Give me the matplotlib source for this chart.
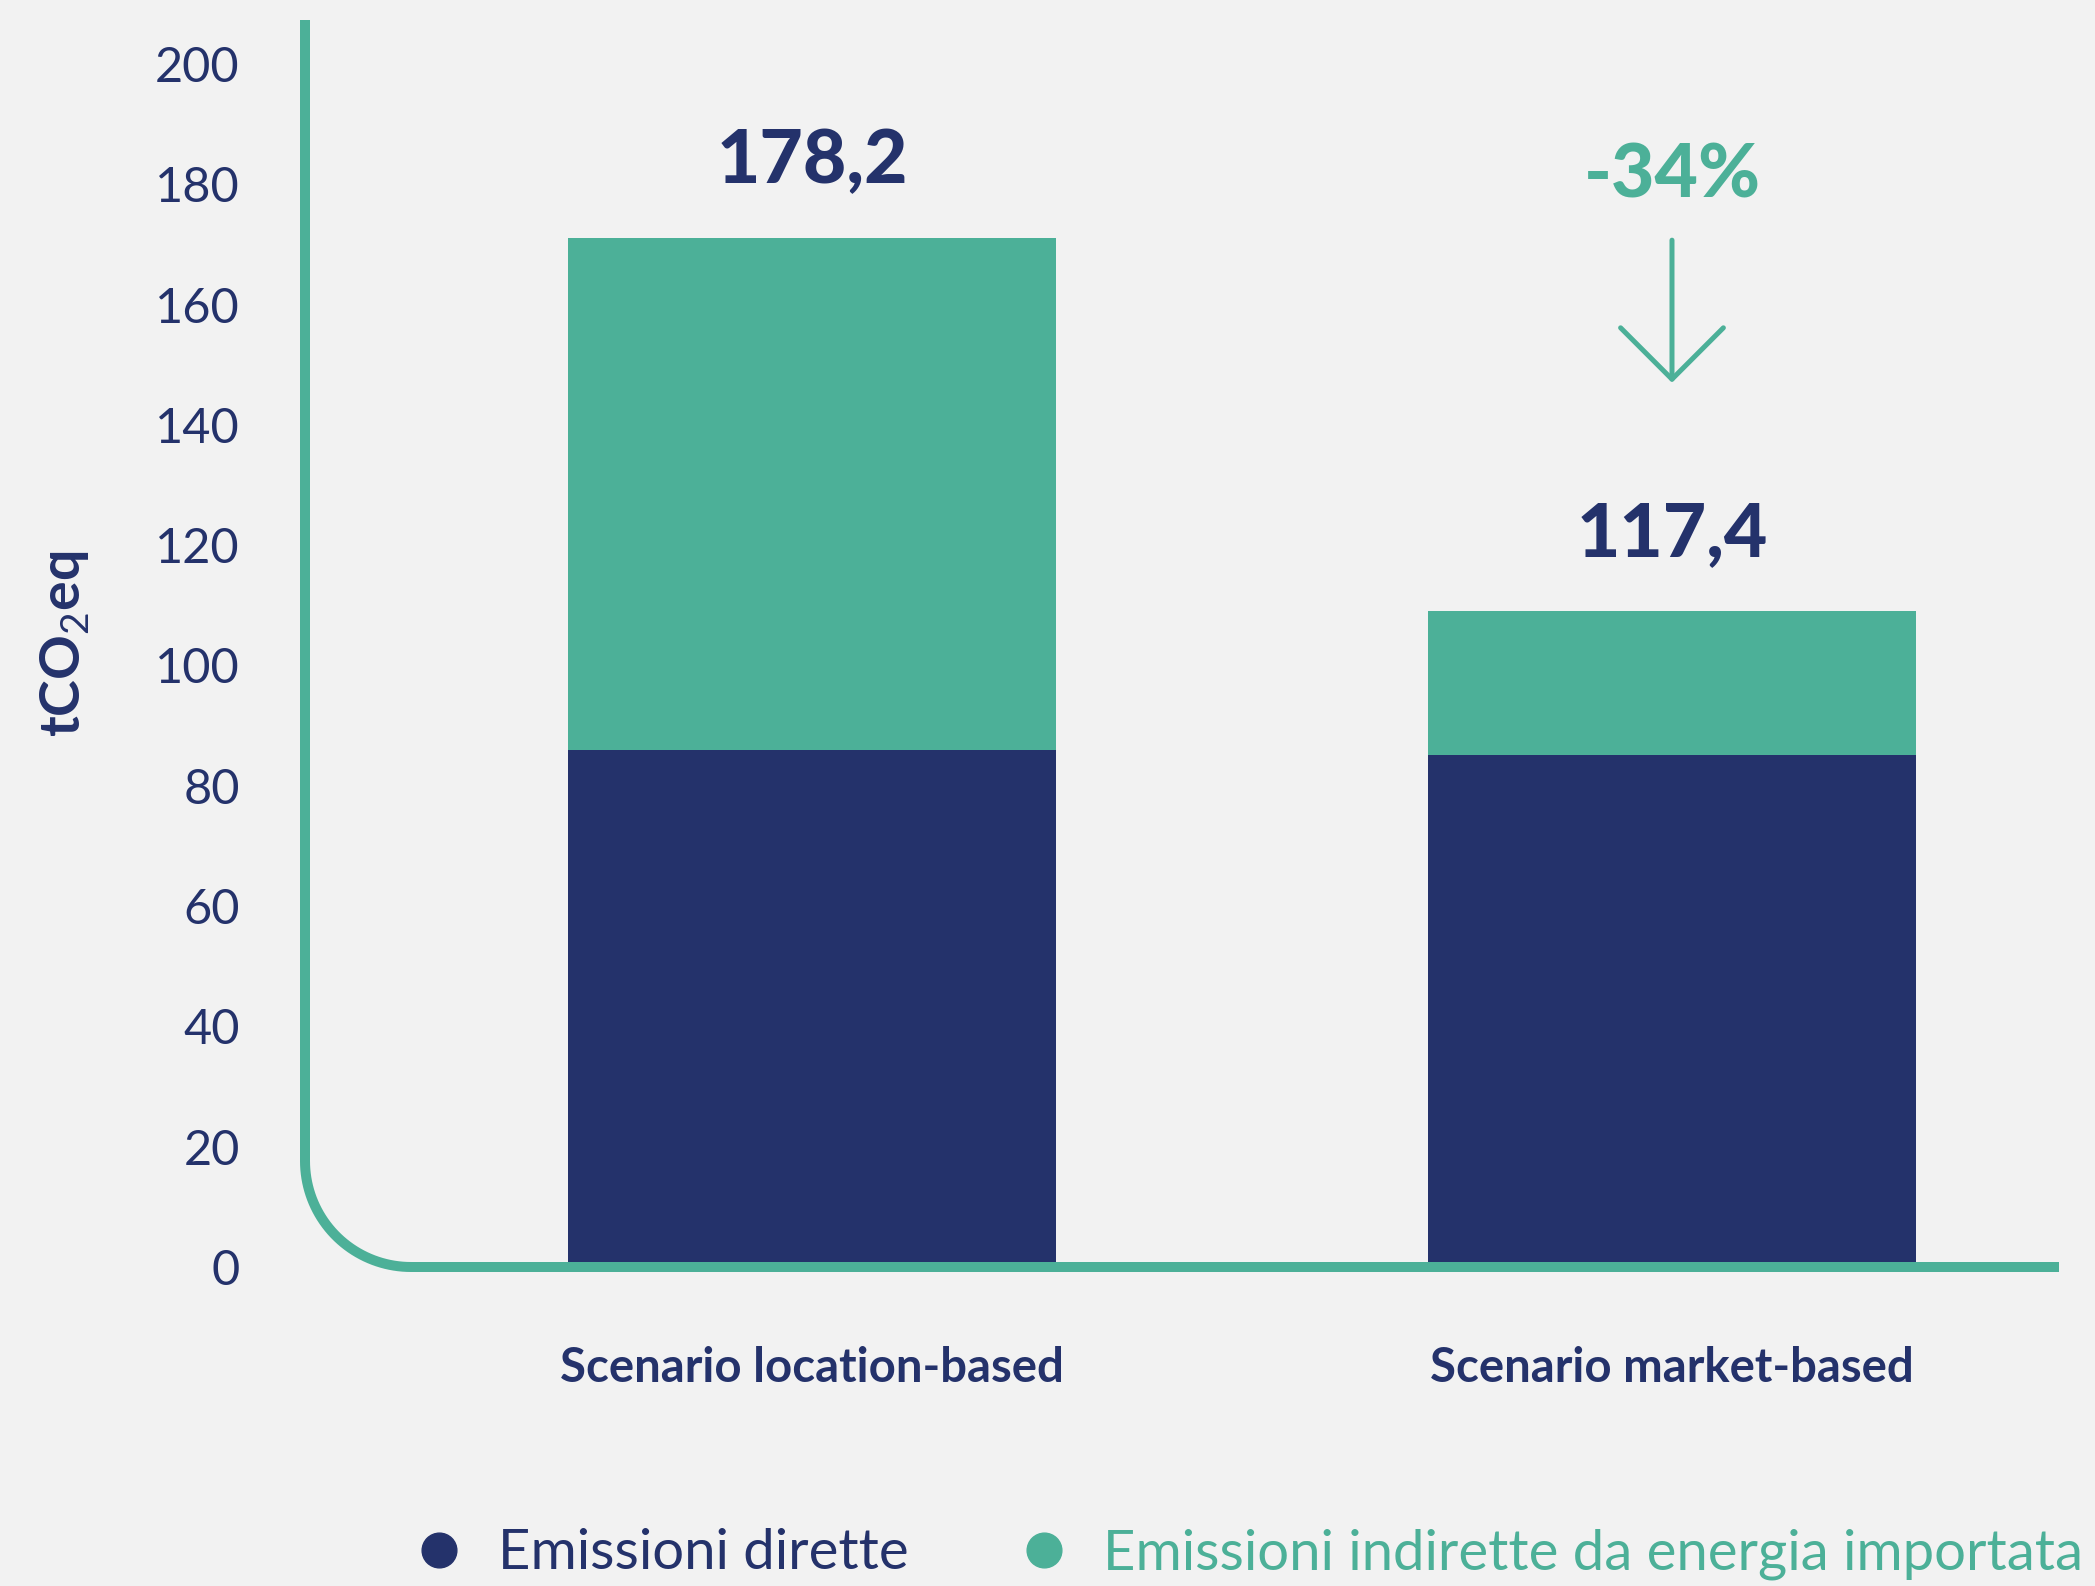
import numpy as np
import matplotlib.pyplot as plt
from matplotlib.lines import Line2D

# ---------------- data ----------------
categories = ["Scenario location-based", "Scenario market-based"]
dirette = [86.0, 85.1]          # Emissioni dirette
indirette = [85.1, 23.9]        # Emissioni indirette da energia importata
total_labels = ["178,2", "117,4"]
reduction_label = "-34%"
yticks = [0, 20, 40, 60, 80, 100, 120, 140, 160, 180, 200]

NAVY = "#24326b"
GREEN = "#4cb098"
BG = "#f2f2f2"

plt.rcParams["font.family"] = ["Lato", "DejaVu Sans"]
plt.rcParams["mathtext.fontset"] = "custom"
plt.rcParams["mathtext.rm"] = "Lato"
plt.rcParams["mathtext.bf"] = "Lato:bold"

W, H, DPI = 2095, 1586, 100
fig = plt.figure(figsize=(W / DPI, H / DPI), dpi=DPI, facecolor=BG)

# axes placed in pixel terms
ax_l, ax_r, ax_b, ax_t = 305, 2059, 1267, 20
ax = fig.add_axes([ax_l / W, (H - ax_b) / H, (ax_r - ax_l) / W, (ax_b - ax_t) / H])
ax.set_facecolor(BG)

x = np.arange(len(categories))
ax.bar(x, dirette, width=0.567, color=NAVY, zorder=2)
ax.bar(x, indirette, width=0.567, bottom=dirette, color=GREEN, zorder=2)

ax.set_xlim(-0.5895, 1.45)
ax.set_ylim(0, 207.3)

for s in ax.spines.values():
    s.set_visible(False)

ax.set_yticks(yticks)
ax.set_yticklabels([str(v) for v in yticks])
ax.tick_params(axis="y", length=0, pad=47, labelsize=35, labelcolor=NAVY)
ax.set_xticks(x)
ax.set_xticklabels(categories, fontweight="bold")
ax.tick_params(axis="x", length=0, pad=57, labelsize=34, labelcolor=NAVY)

ax.set_ylabel(r"tCO$_2$eq", fontsize=40, fontweight="bold", color=NAVY, labelpad=46)

# totals above the bars
tops = [d + i for d, i in zip(dirette, indirette)]
for xi, top, lab in zip(x, tops, total_labels):
    ax.annotate(lab, xy=(xi, top), xytext=(0, 55), textcoords="offset points",
                ha="center", va="center", fontsize=54, fontweight="black",
                color=NAVY)

# reduction arrow and percentage
ax.annotate("", xy=(1, 147), xytext=(1, 170.7),
            arrowprops=dict(arrowstyle="->,head_length=3.7,head_width=3.7",
                            color=GREEN, lw=3.6, mutation_scale=10,
                            shrinkA=0, shrinkB=0))
ax.text(1, 181.3, reduction_label, ha="center", va="center", fontsize=54,
        fontweight="black", color=GREEN)

# rounded L-shaped axis line
r = 106
theta = np.linspace(np.pi, 1.5 * np.pi, 40)
cx, cy = ax_l + r, ax_b - r
arc_x = cx + r * np.cos(theta)
arc_y = cy - r * np.sin(theta)
px = np.concatenate([[ax_l], arc_x, [ax_r]])
py = np.concatenate([[ax_t], arc_y, [ax_b]])
fig.add_artist(Line2D(px / DPI, (H - py) / DPI, transform=fig.dpi_scale_trans,
                      color=GREEN, lw=7.2, solid_capstyle="butt"))

# legend
handles = [Line2D([], [], marker="o", ls="", ms=25, color=NAVY),
           Line2D([], [], marker="o", ls="", ms=25, color=GREEN)]
fig.legend(handles, ["Emissioni dirette", "Emissioni indirette da energia importata"],
           loc="center", bbox_to_anchor=(1247 / W, 32 / H), ncol=2, frameon=False,
           fontsize=40.5, labelcolor=[NAVY, GREEN], handletextpad=0.55,
           columnspacing=1.9, handlelength=1.0)

fig.savefig("out.png", dpi=DPI, facecolor=BG)
